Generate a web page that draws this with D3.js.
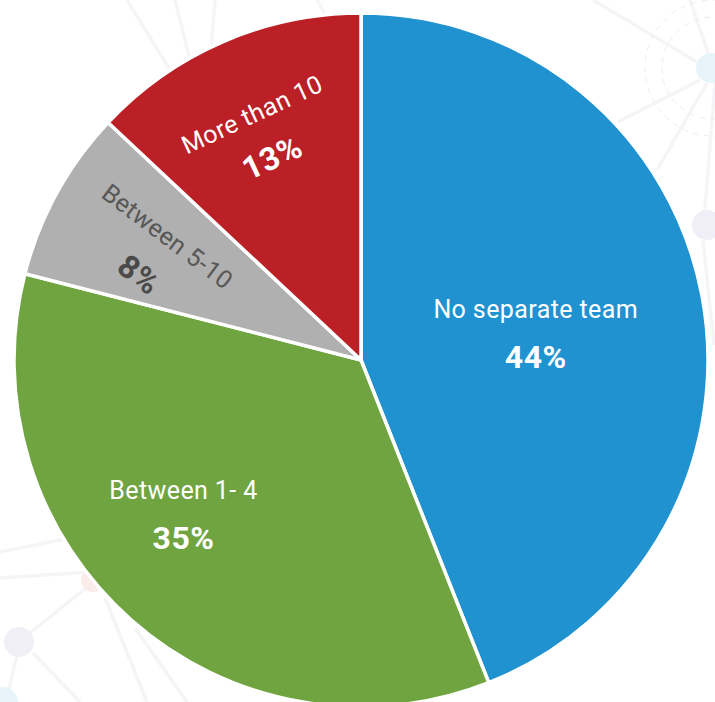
<!DOCTYPE html>
<html>
<head>
<meta charset="utf-8">
<script src="https://cdn.jsdelivr.net/npm/d3@7/dist/d3.min.js"></script>
<style>
  html, body { margin: 0; padding: 0; background: #ffffff; }
  svg { display: block; }
</style>
</head>
<body>
<svg id="chart" width="715" height="702"></svg>
<script>
// Team size split
const categories = ["No separate team", "Between 1- 4", "Between 5-10", "More than 10"];
const shares = [44, 35, 8, 13];
const percentLabels = ["44%", "35%", "8%", "13%"];
const colors = ["#2092d0", "#70a441", "#b0b0b0", "#bb2026"];

// Where each slice's caption sits: fraction of the radius, angular nudge (deg), text rotation (deg)
const captionLayout = {
  "No separate team": { rf: 0.518, turn: -2.8, rot: 0,   fill: "#ffffff", pctFill: "#ffffff" },
  "Between 1- 4":     { rf: 0.650, turn: 10.5, rot: 0,   fill: "#ffffff", pctFill: "#ffffff" },
  "Between 5-10":     { rf: 0.664, turn: 1.6,  rot: 37,  fill: "#585858", pctFill: "#4a4a4a" },
  "More than 10":     { rf: 0.749, turn: -0.5, rot: -25, fill: "#ffffff", pctFill: "#ffffff" }
};

const svg = d3.select("#chart");
const cx = 361, cy = 360, R = 347;

// Faint network pattern in the background
const deco = svg.append("g").attr("class", "backdrop");
const decoLines = [
  [593, 0, 697, 62], [700, 80, 618, 122], [707, 83, 657, 170], [715, 83, 703, 233],
  [690, 0, 708, 53], [703, 240, 714, 345],
  [30, 633, 90, 585], [0, 578, 90, 572], [0, 552, 70, 538], [17, 655, 8, 693],
  [33, 653, 80, 702], [105, 598, 147, 702], [135, 628, 187, 702],
  [127, 0, 170, 70], [175, 0, 190, 60], [215, 0, 210, 60], [317, 0, 325, 14]
];
deco.selectAll("line").data(decoLines).join("line")
  .attr("x1", d => d[0]).attr("y1", d => d[1])
  .attr("x2", d => d[2]).attr("y2", d => d[3])
  .attr("stroke", "#f5f5f7").attr("stroke-width", 3.5);
deco.selectAll("circle.ring").data([51, 68]).join("circle")
  .attr("class", "ring")
  .attr("cx", 713).attr("cy", 68).attr("r", d => d)
  .attr("fill", "none").attr("stroke", "#eeeef2").attr("stroke-width", 1)
  .attr("stroke-dasharray", "6,5");
const decoNodes = [
  [711, 68, 15, "#e6f4fa"], [707, 225, 15, "#f0eef6"],
  [19, 642, 15, "#f1eff6"], [3, 702, 15, "#e6f4fa"], [93, 580, 12, "#fbecec"]
];
deco.selectAll("circle.node").data(decoNodes).join("circle")
  .attr("class", "node")
  .attr("cx", d => d[0]).attr("cy", d => d[1]).attr("r", d => d[2])
  .attr("fill", d => d[3]);

// Pie
const slices = d3.pie().sort(null).value(d => d.value)(
  categories.map((c, i) => ({ name: c, value: shares[i], pct: percentLabels[i], color: colors[i] }))
);
const arc = d3.arc().innerRadius(0).outerRadius(R);

const g = svg.append("g").attr("transform", `translate(${cx},${cy})`);
g.selectAll("path").data(slices).join("path")
  .attr("d", arc)
  .attr("fill", d => d.data.color)
  .attr("stroke", "#ffffff")
  .attr("stroke-width", 3.5)
  .attr("stroke-linejoin", "miter");

// Captions
const cap = g.selectAll("g.caption").data(slices).join("g")
  .attr("class", "caption")
  .attr("transform", d => {
    const L = captionLayout[d.data.name];
    const a = (d.startAngle + d.endAngle) / 2 + L.turn * Math.PI / 180;
    const r = L.rf * R;
    return `translate(${r * Math.sin(a)},${-r * Math.cos(a)}) rotate(${L.rot})`;
  });

cap.append("text")
  .attr("text-anchor", "middle")
  .attr("font-family", "Roboto, 'Open Sans', sans-serif")
  .attr("font-weight", 400)
  .attr("font-size", 25)
  .attr("letter-spacing", 0.4)
  .attr("fill", d => captionLayout[d.data.name].fill)
  .text(d => d.data.name);

cap.append("text")
  .attr("text-anchor", "middle")
  .attr("y", 50)
  .attr("font-family", "Roboto, 'Open Sans', sans-serif")
  .attr("font-weight", 700)
  .attr("font-size", 32)
  .attr("letter-spacing", 0.5)
  .attr("fill", d => captionLayout[d.data.name].pctFill)
  .text(d => d.data.pct);
</script>
</body>
</html>
